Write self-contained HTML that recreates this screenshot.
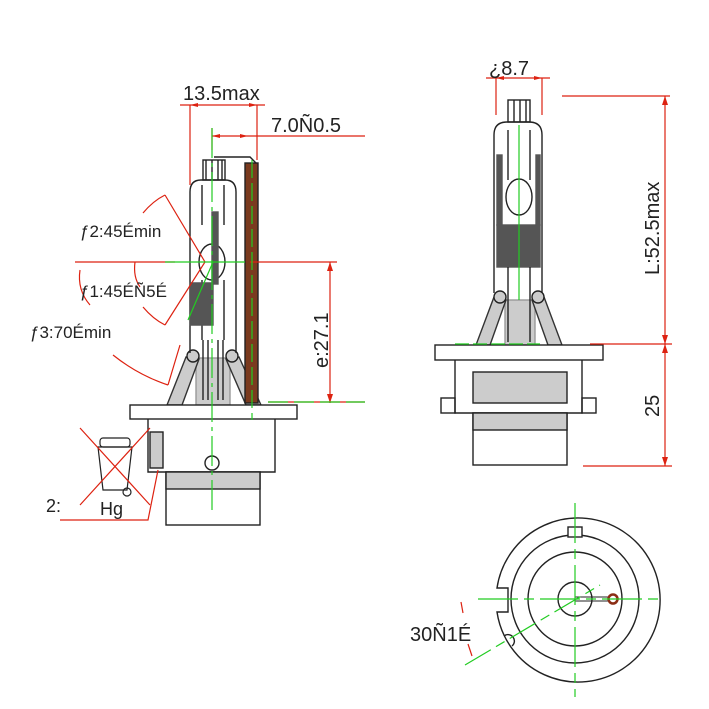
<!DOCTYPE html>
<html><head><meta charset="utf-8"><style>
html,body{margin:0;padding:0;background:#fff}
svg{display:block}
text{font-family:"Liberation Sans",sans-serif;fill:#222}
</style></head><body>
<svg width="709" height="709" viewBox="0 0 709 709" xmlns="http://www.w3.org/2000/svg">
<g fill="none" stroke="#222" stroke-width="1.4">
<!-- LEFT BULB -->
<rect x="196" y="358" width="34" height="47" fill="#ccc" stroke="#999"/>
<path d="M186 357 L199 359 L182 405 L167 405 Z M226 359 L239 357 L261 405 L246 405 Z" fill="#ccc" stroke="#333"/>
<circle cx="193" cy="356" r="6" fill="#ccc"/>
<circle cx="232" cy="356" r="6" fill="#ccc"/>
<path d="M190 353 L190 192 Q190 180 201 180 L225 180 Q236 180 236 192 L236 353" />
<rect x="203" y="160" width="22" height="20"/>
<path d="M206 160 v20 M212 160 v20 M218 160 v20 M222 160 v20"/>
<path d="M202 185 v40 M224 185 v40 M202 280 v60 M224 280 v60 M203 340 v60 M223 340 v60 M208 340 v60 M218 340 v60"/>
<ellipse cx="212" cy="262" rx="13" ry="18"/>
<path d="M190 283 L213 283 L213 325 L190 325 Z" fill="#555" stroke="#555"/>
<rect x="212" y="212" width="6" height="72" fill="#555" stroke="#555"/>
<path d="M214 157 L250 157 L256 163" />
<rect x="245" y="163" width="13" height="240" fill="#7a3a1e" stroke="#222"/>
<rect x="130" y="405" width="167" height="14" fill="#fff"/>
<path d="M148 419 V472 H275 V419"/>
<rect x="150" y="432" width="13" height="36" fill="#ccc"/>
<circle cx="212" cy="463" r="7" fill="#fff"/>
<rect x="166" y="472" width="94" height="53"/>
<rect x="166" y="472" width="94" height="17" fill="#ccc"/>
<path d="M98 447 H132 L127 490 H103 Z" stroke-width="1.2"/>
<rect x="100" y="438" width="30" height="9" rx="3" stroke-width="1.2"/>
<circle cx="127" cy="492" r="4" stroke-width="1.2"/>

<!-- RIGHT BULB -->
<rect x="505" y="300" width="30" height="45" fill="#ccc" stroke="#999"/>
<path d="M494 297 L506 300 L490 345 L476 345 Z M532 300 L544 297 L562 345 L548 345 Z" fill="#ccc" stroke="#333"/>
<circle cx="500" cy="297" r="6" fill="#ccc"/>
<circle cx="538" cy="297" r="6" fill="#ccc"/>
<path d="M494 293 L494 135 Q494 122 507 122 L529 122 Q542 122 542 135 L542 293"/>
<rect x="508" y="100" width="22" height="22"/>
<path d="M514 100 v22 M520 100 v22 M526 100 v22"/>
<rect x="497" y="225" width="43" height="42" fill="#555" stroke="#555"/>
<rect x="497" y="155" width="5" height="70" fill="#555" stroke="#555"/>
<rect x="536" y="155" width="4" height="70" fill="#555" stroke="#555"/>
<ellipse cx="519" cy="197" rx="13" ry="18"/>
<path d="M508 130 v50 M530 130 v50 M508 267 v75 M530 267 v75"/>
<rect x="435" y="345" width="168" height="15" fill="#fff"/>
<path d="M455 360 V413 H582 V360"/>
<rect x="441" y="398" width="14" height="15"/>
<rect x="582" y="398" width="14" height="15"/>
<rect x="473" y="372" width="94" height="31" fill="#ccc"/>
<rect x="473" y="413" width="94" height="52"/>
<rect x="473" y="413" width="94" height="17" fill="#ccc"/>

<!-- BOTTOM VIEW -->
<path d="M497 588 A82 82 0 1 1 497 612 L508 612 L508 588 Z" />
<circle cx="575" cy="599" r="64"/>
<circle cx="575" cy="599" r="47"/>
<circle cx="575" cy="599" r="17"/>
<rect x="568" y="527" width="14" height="10" fill="#fff"/>
<path d="M504 636 a6 6 0 0 1 8 10" />
<path d="M575 597 H610 M575 601 H610" stroke-width="1"/>
<circle cx="613" cy="599" r="4.5" stroke="#8b2d14" stroke-width="2.5"/>
</g>

<g stroke="#d21" stroke-width="1.2" fill="none">
<path d="M180 105 H265 M190 105 V185 M257 105 V160"/>
<path d="M212 136 H365 M212 128 V150"/>
<path d="M75 262 H175 M250 262 H337"/>
<path d="M330 262 V403"/>
<path d="M268 402 H365" />
<path d="M486 78 H550 M496 78 V115 M542 78 V115"/>
<path d="M562 96 H670 M590 344 H672 M583 466 H672 M665 96 V466"/>
<path d="M165 195 L205 262 L165 325"/>
<path d="M165 195 q-12 6 -22 18 M165 325 q-12 -6 -22 -18"/>
<path d="M135 262 q-2 15 5 25"/>
<path d="M80 270 q-3 20 10 35"/>
<path d="M113 355 q25 20 55 30 M168 385 L180 345"/>
<path d="M80 428 L150 505 M150 428 L80 505"/>
<path d="M60 520 H148 L158 470"/>
<path d="M461 602 L463 613 M468 644 L472 656"/>
</g>
<g fill="#d21">
<path d="M212 136 l8 -2 v4z M248 136 l-8 -2 v4z M330 262 l-3 9 h6z M330 403 l-3 -9 h6z M665 96 l-3 9 h6z M665 344 l-3 -9 h6z M665 344 l-3 9 h6z M665 466 l-3 -9 h6z M496 78 l8 -2 v4z M542 78 l-8 -2 v4z M190 105 l8 -2 v4z M257 105 l-8 -2 v4z"/>
</g>

<g stroke="#2c2" stroke-width="1.2" fill="none">
<path d="M212 128 V510" stroke-dasharray="30 5 4 5"/>
<path d="M252 160 V420" stroke-dasharray="18 5"/>
<path d="M165 262 H245"/>
<path d="M268 402 H365" stroke-dasharray="20 6"/>
<path d="M213 262 L188 320"/>
<path d="M519 125 V300"/>
<path d="M455 344 H540" stroke-dasharray="14 4"/>
<path d="M478 599 H660" stroke-dasharray="40 6 10 6"/>
<path d="M575 503 V697" stroke-dasharray="40 6 10 6"/>
<path d="M465 665 L600 585" stroke-dasharray="30 6 10 6"/>
</g>

<text x="183" y="100" font-size="20">13.5max</text>
<text x="271" y="132" font-size="20">7.0Ñ0.5</text>
<text x="80" y="237" font-size="17">ƒ2:45Émin</text>
<text x="80" y="297" font-size="17">ƒ1:45ÉÑ5É</text>
<text x="30" y="338" font-size="17">ƒ3:70Émin</text>
<text x="46" y="512" font-size="18">2:</text>
<text x="100" y="515" font-size="18">Hg</text>
<text transform="translate(328 368) rotate(-90)" font-size="20">e:27.1</text>
<text x="489" y="75" font-size="20">¿8.7</text>
<text transform="translate(659 275) rotate(-90)" font-size="20">L:52.5max</text>
<text transform="translate(659 417) rotate(-90)" font-size="20">25</text>
<text x="410" y="641" font-size="20">30Ñ1É</text>
</svg>
</body></html>
